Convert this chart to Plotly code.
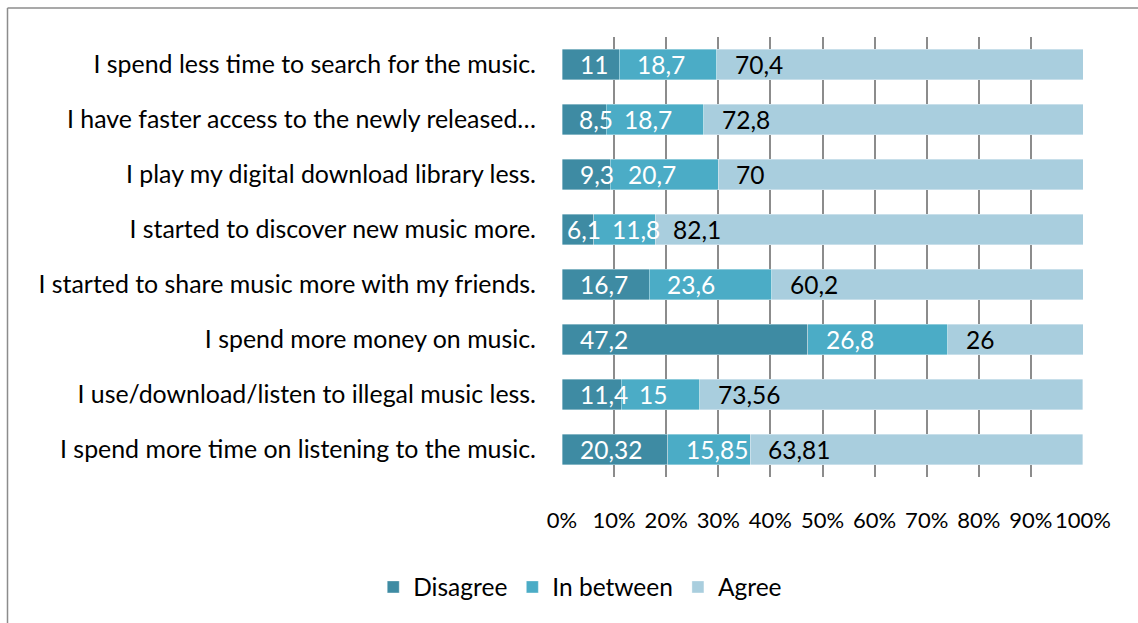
import plotly.graph_objects as go

categories = [
    "I spend less time to search for the music.",
    "I have faster access to the newly released…",
    "I play my digital download library less.",
    "I started to discover new music more.",
    "I started to share music more with my friends.",
    "I spend more money on music.",
    "I use/download/listen to illegal music less.",
    "I spend more time on listening to the music.",
]
disagree = [11, 8.5, 9.3, 6.1, 16.7, 47.2, 11.4, 20.32]
in_between = [18.7, 18.7, 20.7, 11.8, 23.6, 26.8, 15, 15.85]
agree = [70.4, 72.8, 70, 82.1, 60.2, 26, 73.56, 63.81]
tick_vals = [0, 10, 20, 30, 40, 50, 60, 70, 80, 90, 100]
tick_text = [f"{v}%" for v in tick_vals]

FONT = "Lato"
FS = 24.5

def fmt(v):
    return str(v).replace(".", ",")

series = [
    ("Disagree", disagree, "#3E8BA3", "white"),
    ("In between", in_between, "#4BACC6", "white"),
    ("Agree", agree, "#A9CEDE", "black"),
]

W, H = 1138, 623
L, R, T, B = 562, 55, 37, 146
pw, ph = W - L - R, H - T - B

fig = go.Figure()
for name, vals, color, tcolor in series:
    fig.add_trace(go.Bar(
        y=categories, x=vals, name=name, orientation="h",
        marker=dict(color=color, line=dict(color="rgba(255,255,255,0.6)", width=0.6)),
        hoverinfo="x+y+name",
    ))

# data labels near the base of each segment
annotations = []
starts = [0.0] * len(categories)
for name, vals, color, tcolor in series:
    for i, (cat, v) in enumerate(zip(categories, vals)):
        seg_px = v / 100 * pw
        shift = min(16, max(2, seg_px - 29))
        annotations.append(dict(
            x=starts[i], y=cat, xref="x", yref="y",
            text=fmt(v), showarrow=False, xanchor="left", yanchor="middle",
            xshift=shift, font=dict(color=tcolor, size=FS, family=FONT),
        ))
        starts[i] += v

fig.update_layout(
    width=W, height=H,
    margin=dict(l=L, r=R, t=T, b=B, autoexpand=False),
    barmode="stack", bargap=0.44,
    plot_bgcolor="white", paper_bgcolor="white",
    font=dict(family=FONT, size=FS, color="black"),
    annotations=annotations,
    xaxis=dict(range=[0, 100], tickvals=tick_vals, ticktext=tick_text,
               showgrid=True, gridcolor="#8c8c8c", gridwidth=1.5,
               zeroline=False, showline=False, ticks="", tickangle=0,
               automargin=False,
               ticklabelstandoff=28, tickfont=dict(size=22, family=FONT)),
    yaxis=dict(categoryorder="array", categoryarray=categories[::-1],
               showgrid=False, zeroline=False, ticks="", automargin=False,
               ticklabelstandoff=25, tickfont=dict(size=24.9, family=FONT)),
    legend=dict(orientation="h", x=0.035, xanchor="center", y=-0.25, yanchor="middle",
                font=dict(size=FS, family=FONT), traceorder="normal",
                itemwidth=30),
    showlegend=True,
)

# outer chart border (left and top edges visible)
fig.add_shape(type="line", xref="paper", yref="paper",
              x0=(7.5 - L) / pw, x1=(W + 20 - L) / pw,
              y0=1 + (T - 8) / ph, y1=1 + (T - 8) / ph,
              line=dict(color="#8c8c8c", width=1.5))
fig.add_shape(type="line", xref="paper", yref="paper",
              x0=(7.5 - L) / pw, x1=(7.5 - L) / pw,
              y0=1 + (T - 8) / ph, y1=-(B + 20) / ph,
              line=dict(color="#8c8c8c", width=1.5))

fig.write_html("out.html")
